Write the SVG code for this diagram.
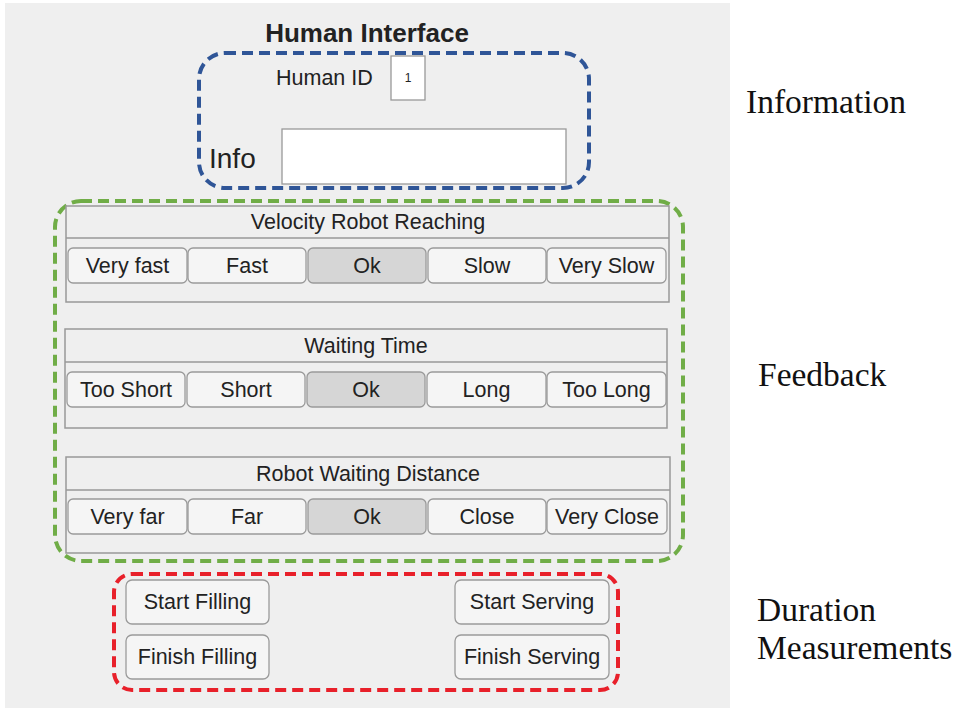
<svg xmlns="http://www.w3.org/2000/svg" width="962" height="708" viewBox="0 0 962 708">
<style>
.ui{font-family:"Liberation Sans",Arial,sans-serif;fill:#222}
.lbl{font-family:"Liberation Serif","Times New Roman",serif;fill:#111;font-size:33.5px}
.btn{fill:#f5f5f5;stroke:#9a9a9a;stroke-width:1.3}
.sel{fill:#d6d6d6;stroke:#9a9a9a;stroke-width:1.3}
.pan{fill:#efefef;stroke:#999;stroke-width:1.5}
.bt{font-size:21.5px;text-anchor:middle}
.grp{fill:none;stroke-width:4;stroke-dasharray:11 6}
</style>
<rect x="0" y="0" width="962" height="708" fill="#fff"/>
<rect x="5" y="3" width="725" height="705" fill="#efefef"/>
<text class="ui" x="367" y="42" font-size="26" font-weight="bold" text-anchor="middle" fill="#111">Human Interface</text>

<g id="information">
<rect class="grp" x="199" y="53" width="390" height="135" rx="26" stroke="#2f5597"/>
<text class="ui" x="276" y="85" font-size="21.5">Human ID</text>
<rect x="391" y="56" width="34" height="44" fill="#fff" stroke="#999" stroke-width="1.3"/>
<text class="ui" x="408" y="82" font-size="12" text-anchor="middle">1</text>
<text class="ui" x="209" y="168" font-size="28">Info</text>
<rect x="282" y="129" width="284" height="55" fill="#fff" stroke="#999" stroke-width="1.3"/>
</g>

<g id="feedback">
<rect class="grp" x="55" y="201" width="628" height="360" rx="26" stroke="#70ad47"/>
<g id="velocity">
<rect class="pan" x="66" y="206" width="603" height="96"/>
<line x1="66" y1="238" x2="669" y2="238" stroke="#999" stroke-width="1.5"/>
<text class="ui" x="368" y="229" font-size="21.5" text-anchor="middle">Velocity Robot Reaching</text>
<rect class="btn" x="68" y="248" width="119" height="35" rx="5"/><text class="ui bt" x="127.5" y="273">Very fast</text>
<rect class="btn" x="188" y="248" width="118" height="35" rx="5"/><text class="ui bt" x="247" y="273">Fast</text>
<rect class="sel" x="308" y="248" width="118" height="35" rx="5"/><text class="ui bt" x="367" y="273">Ok</text>
<rect class="btn" x="428" y="248" width="118" height="35" rx="5"/><text class="ui bt" x="487" y="273">Slow</text>
<rect class="btn" x="547" y="248" width="119" height="35" rx="5"/><text class="ui bt" x="606.5" y="273">Very Slow</text>
</g>
<g id="waiting">
<rect class="pan" x="65" y="329" width="602" height="99"/>
<line x1="65" y1="362" x2="667" y2="362" stroke="#999" stroke-width="1.5"/>
<text class="ui" x="366" y="353" font-size="21.5" text-anchor="middle">Waiting Time</text>
<rect class="btn" x="67" y="372" width="118" height="35" rx="5"/><text class="ui bt" x="126" y="397">Too Short</text>
<rect class="btn" x="187" y="372" width="118" height="35" rx="5"/><text class="ui bt" x="246" y="397">Short</text>
<rect class="sel" x="307" y="372" width="118" height="35" rx="5"/><text class="ui bt" x="366" y="397">Ok</text>
<rect class="btn" x="427" y="372" width="119" height="35" rx="5"/><text class="ui bt" x="486.5" y="397">Long</text>
<rect class="btn" x="547" y="372" width="119" height="35" rx="5"/><text class="ui bt" x="606.5" y="397">Too Long</text>
</g>
<g id="distance">
<rect class="pan" x="66" y="457" width="604" height="96"/>
<line x1="66" y1="490" x2="670" y2="490" stroke="#999" stroke-width="1.5"/>
<text class="ui" x="368" y="481" font-size="21.5" text-anchor="middle">Robot Waiting Distance</text>
<rect class="btn" x="68" y="499" width="119" height="35" rx="5"/><text class="ui bt" x="127.5" y="524">Very far</text>
<rect class="btn" x="188" y="499" width="118" height="35" rx="5"/><text class="ui bt" x="247" y="524">Far</text>
<rect class="sel" x="308" y="499" width="118" height="35" rx="5"/><text class="ui bt" x="367" y="524">Ok</text>
<rect class="btn" x="428" y="499" width="118" height="35" rx="5"/><text class="ui bt" x="487" y="524">Close</text>
<rect class="btn" x="547" y="499" width="120" height="35" rx="5"/><text class="ui bt" x="607" y="524">Very Close</text>
</g>
</g>

<g id="duration">
<rect class="grp" x="114" y="574" width="504" height="116" rx="18" stroke="#e8202a"/>
<rect class="btn" x="126" y="580" width="143" height="44" rx="6"/><text class="ui bt" x="197.5" y="609">Start Filling</text>
<rect class="btn" x="126" y="635" width="143" height="44" rx="6"/><text class="ui bt" x="197.5" y="664">Finish Filling</text>
<rect class="btn" x="455" y="580" width="154" height="44" rx="6"/><text class="ui bt" x="532" y="609">Start Serving</text>
<rect class="btn" x="455" y="635" width="154" height="44" rx="6"/><text class="ui bt" x="532" y="664">Finish Serving</text>
</g>

<g id="labels">
<text class="lbl" x="746" y="113">Information</text>
<text class="lbl" x="758" y="386">Feedback</text>
<text class="lbl" x="757" y="621">Duration</text>
<text class="lbl" x="757" y="659">Measurements</text>
</g>
</svg>
